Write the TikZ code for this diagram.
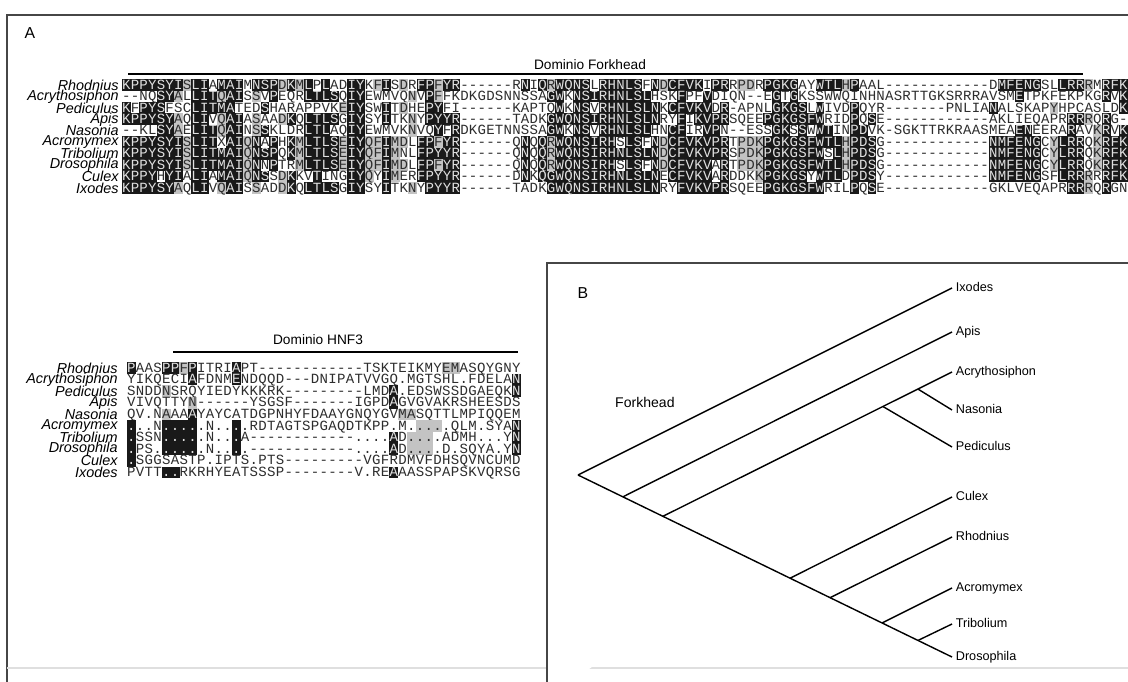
\documentclass[tikz,border=0pt]{standalone}
\usepackage{fontspec}
\setmainfont{Liberation Sans}
\newfontfamily\seqfont{Liberation Mono}
\usetikzlibrary{calc, positioning}
\definecolor{frameC}{RGB}{70,70,70}
\definecolor{boxC}{RGB}{25,25,25}
\definecolor{shadeC}{RGB}{195,195,195}
\definecolor{letterC}{RGB}{45,45,45}

% one macro per residue: \csname set-row-col\endcsname
\newcount\colk
\newcount\idcnt
\newcount\rowk
\def\storeseq#1#2#3{\def\seqset{#1}\def\seqrow{#2}\colk=0 \storechar#3\relax}
\def\storechar#1{\ifx#1\relax\else
  \advance\colk by 1
  \expandafter\def\csname\seqset-\seqrow-\the\colk\endcsname{#1}%
  \expandafter\storechar\fi}
% rows sharing the residue of row #2, column #3
\def\countsame#1#2#3{\idcnt=0 \rowk=0
  \loop\advance\rowk by 1
    \expandafter\ifx\csname#1-#2-#3\expandafter\endcsname
      \csname#1-\the\rowk-#3\endcsname\advance\idcnt by 1 \fi
  \ifnum\rowk<10 \repeat}
\def\gapchar{-}

% Forkhead domain
\storeseq{top}{1}{KPPYSYISLIAMAIMNSPDKMLPLADIYKFISDRFPFYR------RNIQRWQNSLRHNLSFNDCFVKIPRRPDRPGKGAYWTLHPAAL------------DMFENGSLLRRRMRFK}
\storeseq{top}{2}{--NQSYALLITQAISSVPEQRLTLSQIYEWMVQNVPFFKDKGDSNNSSAGWKNSIRHNLSLHSKFPFVDIQN--EGTGKSSWWQINHNASRTTGKSRRRAVSMETPKFEKPKGRVK}
\storeseq{top}{3}{KFPYSFSCLITMATEDSHARAPPVKEIYSWITDHEPYFI------KAPTQWKNSVRHNLSLNKCFVKVDR-APNLGKGSLWIVDPQYR-------PNLIANALSKAPYHPCASLDK}
\storeseq{top}{4}{KPPYSYAQLIVQAIASAADKQLTLSGIYSYITKNYPYYR------TADKGWQNSIRHNLSLNRYFIKVPRSQEEPGKGSFWRIDPQSE------------AKLIEQAPRRRRQRG-}
\storeseq{top}{5}{--KLSYAELITQAINSSKLDRLTLAQIYEWMVKNVQYFRDKGETNNSSAGWKNSVRHNLSLHNCFIRVPN--ESSGKSSWWTINPDVK-SGKTTRKRAASMEAENEERARAVKRVK}
\storeseq{top}{6}{KPPYSYISLITXAIQNAPHKMLTLSEIYQFIMDLFPFYR------QNQQRWQNSIRHSLSFNDCFVKVPRTPDKPGKGSFWTLHPDSG------------NMFENGCYLRRQKRFK}
\storeseq{top}{7}{KPPYSYISLITMAIQNSPQKMLTLSEIYQFIMNLFPYYR------QNQQRWQNSIRHNLSLNDCFVKVPRSPDKPGKGSFWSLHPDSG------------NMFENGCYLRRQKRFK}
\storeseq{top}{8}{KPPYSYISLITMAIQNNPTRMLTLSEIYQFIMDLFPFYR------QNQQRWQNSIRHSLSFNDCFVKVARTPDKPGKGSFWTLHPDSG------------NMFENGCYLRRQKRFK}
\storeseq{top}{9}{KPPYHYIALIAMAIQNSSDKKVTINGIYQYIMERFPYYR------DNKQGWQNSIRHNLSLNECFVKVARDDKKPGKGSYWTLDPDSY------------NMFENGSFLRRRRRFK}
\storeseq{top}{10}{KPPYSYAQLIVQAISSADDKQLTLSGIYSYITKNYPYYR------TADKGWQNSIRHNLSLNRYFVKVPRSQEEPGKGSFWRILPQSE------------GKLVEQAPRRRRQRGN}

% HNF3 domain, with its shading (k black, g grey)
\storeseq{bot}{1}{PAASPPFPITRIAPT------------TSKTEIKMYEMASQYGNY}
\storeseq{bot}{2}{YIKQECIAFDNMENDQQD---DNIPATVVGQ.MGTSHL.FDELAN}
\storeseq{bot}{3}{SNDDNSRQYIEDYKKKRK---------LMDA.EDSWSSDGAEQKN}
\storeseq{bot}{4}{VIVQTTYN------YSGSF-------IGPDAGVGVAKRSHEESDS}
\storeseq{bot}{5}{QV.NAAAAYAYCATDGPNHYFDAAYGNQYGVMASQTTLMPIQQEM}
\storeseq{bot}{6}{...N.....N....RDTAGTSPGAQDTKPP.M.....QLM.SYAN}
\storeseq{bot}{7}{.SSN.....N...A------------....AD....ADMH...YN}
\storeseq{bot}{8}{.PS......N....------------....AD....D.SQYA.YN}
\storeseq{bot}{9}{.SGGSASTP.IPTS.PTS---------VGFRDMVFDHSQVNCUMD}
\storeseq{bot}{10}{PVTT..RKRHYEATSSSP--------V.REAAASSPAPSKVQRSG}
\storeseq{msk}{1}{k...kkgk....k.......................gg.......}
\storeseq{msk}{2}{.......k....k...............................k}
\storeseq{msk}{3}{....g.........................k.............k}
\storeseq{msk}{4}{.......g......................k..............}
\storeseq{msk}{5}{....g..k.......................gg............}
\storeseq{msk}{6}{k...kkkk....k....................ggg........k}
\storeseq{msk}{7}{k...kkkk....k.................k.ggg.........k}
\storeseq{msk}{8}{k...kkkk....k.................k.ggg.........k}
\storeseq{msk}{9}{k............................................}
\storeseq{msk}{10}{....kk........................k..............}

\begin{document}
\begin{tikzpicture}[x=0.02cm, y=-0.02cm,
  seqcell/.style={font=\seqfont\fontsize{8}{8}\selectfont, inner sep=0pt,
              minimum width=5.05pt, minimum height=6.7pt,
              text height=5.6pt, text depth=0.9pt, text=letterC},
  resplain/.style={seqcell},
  resdark/.style={seqcell, fill=boxC, text=white!88!black},
  reslight/.style={seqcell, fill=shadeC},
  spname/.style={font=\fontsize{8.2}{8}\selectfont\itshape, anchor=east, inner sep=0pt},
  domtitle/.style={font=\fontsize{7.8}{8}\selectfont},
  tiplab/.style={font=\fontsize{7.2}{8}\selectfont, anchor=west, inner sep=2pt,
              text height=5.5pt, text depth=1.5pt},
  treeline/.style={line width=0.8pt},
  frameline/.style={line width=1.1pt, draw=frameC}
]
\useasboundingbox (0,0) rectangle (1128,682);
\clip (0,0) rectangle (1128,682);

% Frames
\draw[frameline] (7,700) -- (7,15) -- (1140,15);
\draw[gray!25, line width=0.6pt] (7,668) -- (1140,668);
\draw[frameline, fill=white] (547,700) -- (547,263) -- (1140,263);

% A: alignments
\node[font=\fontsize{9}{9}\selectfont] (labA) at (30,33) {A};
\node[domtitle] (domFkh) at (590,65) {Dominio Forkhead};
\draw[line width=0.6pt] (128,74) -- (1083,74);
\node[domtitle] (domHnf) at (318,340) {Dominio HNF3};
\draw[line width=0.6pt] (173,352) -- (518,352);

\foreach \spc [count=\ri] in {Rhodnius,Acrythosiphon,Pediculus,Apis,Nasonia,Acromymex,Tribolium,Drosophila,Culex,Ixodes}{
  \node[spname] (topname\ri) at (119,{85+(\ri-1)*11.45}) {\spc};
  \node[spname] (botname\ri) at (118,{368+(\ri-1)*11.6}) {\spc};
}

\foreach \ri in {1,...,10}{
  \foreach \ci in {1,...,116}{
    \countsame{top}{\ri}{\ci}%
    \edef\res{\csname top-\ri-\ci\endcsname}%
    \def\look{resplain}%
    \ifx\res\gapchar\else
      \ifnum\idcnt>4 \def\look{resdark}\else
      \ifnum\idcnt>3 \def\look{reslight}\fi\fi
    \fi
    \node[\look] (top-\ri-\ci) at ({122+(\ci-0.5)*8.67},{85+(\ri-1)*11.45}) {\res};
  }
}

\foreach \ri in {1,...,10}{
  \foreach \ci in {1,...,45}{
    \edef\res{\csname bot-\ri-\ci\endcsname}%
    \edef\mk{\csname msk-\ri-\ci\endcsname}%
    \def\look{resplain}%
    \if k\mk \def\look{resdark}\fi
    \if g\mk \def\look{reslight}\fi
    \node[\look] (bot-\ri-\ci) at ({127+(\ci-0.5)*8.75},{368+(\ri-1)*11.6}) {\res};
  }
}

% B: tree
\node[font=\fontsize{9}{9}\selectfont] (labB) at (583,293) {B};
\node[font=\fontsize{8}{8}\selectfont, anchor=west] (fkh) at (609,402) {Forkhead};

\coordinate (root) at (578,475);
\node[tiplab] (lIxo) at (952,288) {Ixodes};
\node[tiplab] (lApi) at (952,332) {Apis};
\node[tiplab] (lAcy) at (952,372) {Acrythosiphon};
\node[tiplab] (lNas) at (952,410) {Nasonia};
\node[tiplab] (lPed) at (952,447) {Pediculus};
\node[tiplab] (lCul) at (952,497) {Culex};
\node[tiplab] (lRho) at (952,537) {Rhodnius};
\node[tiplab] (lAcm) at (952,588) {Acromymex};
\node[tiplab] (lTri) at (952,624) {Tribolium};
\node[tiplab] (lDro) at (952,657) {Drosophila};

\coordinate (nApi) at ($(root)!0.12!(lDro.west)$);
\coordinate (nAcy) at ($(root)!0.227!(lDro.west)$);
\coordinate (nCul) at ($(root)!0.567!(lDro.west)$);
\coordinate (nRho) at ($(root)!0.674!(lDro.west)$);
\coordinate (nAcm) at ($(root)!0.813!(lDro.west)$);
\coordinate (nTri) at ($(root)!0.909!(lDro.west)$);
\coordinate (nPed) at ($(nAcy)!0.761!(lAcy.west)$);
\coordinate (nNas) at ($(nAcy)!0.882!(lAcy.west)$);

\draw[treeline] (root) -- (lIxo.west);
\draw[treeline] (root) -- (lDro.west);
\draw[treeline] (nApi) -- (lApi.west);
\draw[treeline] (nAcy) -- (lAcy.west);
\draw[treeline] (nPed) -- (lPed.west);
\draw[treeline] (nNas) -- (lNas.west);
\draw[treeline] (nCul) -- (lCul.west);
\draw[treeline] (nRho) -- (lRho.west);
\draw[treeline] (nAcm) -- (lAcm.west);
\draw[treeline] (nTri) -- (lTri.west);
\end{tikzpicture}
\end{document}
